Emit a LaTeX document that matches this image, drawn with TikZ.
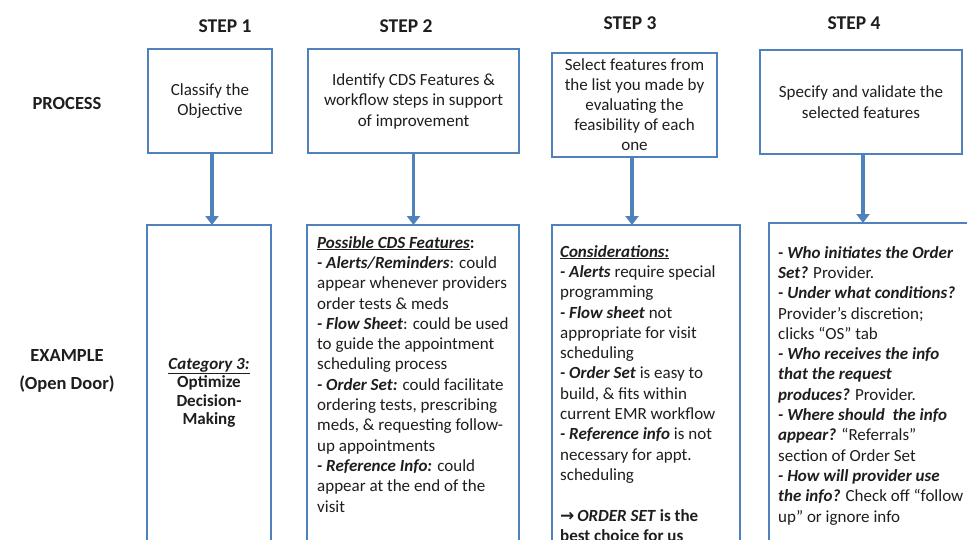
\documentclass[tikz,border=0pt]{standalone}
\usepackage{fontspec}
\setmainfont{Carlito}
\newfontfamily\symfont{DejaVu Sans}
\usetikzlibrary{arrows.meta}
\definecolor{boxblue}{HTML}{4F81BD}
\definecolor{txt}{HTML}{1E1E1E}
\newcommand{\bi}[1]{\textbf{\textit{#1}}}
\begin{document}
\begin{tikzpicture}[x=1pt,y=-1pt,
  box/.style={draw=boxblue,line width=2.4pt,inner sep=0pt,outer sep=0pt,
    font=\fontsize{17}{20.5}\selectfont,text=txt,align=center},
  conn/.style={draw=boxblue,line width=3.4pt,-{Triangle[width=13pt,length=9pt]}},
  head/.style={font=\bfseries\fontsize{19.5}{22}\selectfont,text=txt},
  side/.style={font=\bfseries\fontsize{18.5}{28}\selectfont,text=txt,align=center},
  lt/.style={font=\fontsize{17}{20.3}\selectfont,text=txt,align=left,inner sep=0pt,anchor=north west},
  ct/.style={font=\bfseries\fontsize{17}{18.5}\selectfont,text=txt,align=center,inner sep=0pt,anchor=north}]
\useasboundingbox (0,0) rectangle (967,539);
\fill[white] (0,0) rectangle (967,539);
\begin{scope}
\clip (0,0) rectangle (967,539);
% headings
\node[head] (h1) at (225,26) {STEP 1};
\node[head] (h2) at (406,26) {STEP 2};
\node[head] (h3) at (630,23) {STEP 3};
\node[head] (h4) at (854,23) {STEP 4};
% row labels
\node[side] (lp) at (67,103) {PROCESS};
\node[side] (le) at (67,371) {EXAMPLE\\(Open Door)};
% process boxes
\node[box,minimum width=124pt,minimum height=104pt] (p1) at (210,101) {Classify the\\Objective};
\node[box,minimum width=211pt,minimum height=104pt] (p2) at (413.5,101) {Identify CDS Features \&\\workflow steps in support\\of improvement};
\node[box,minimum width=165pt,minimum height=104pt,font=\fontsize{17}{20}\selectfont] (p3) at (634.5,105) {Select features from\\the list you made by\\evaluating the\\feasibility of each\\one};
\node[box,minimum width=202pt,minimum height=104pt] (p4) at (861,102) {Specify and validate the\\selected features};
% example boxes
\node[box,minimum width=124pt,minimum height=340pt] (e1) at (209,395) {};
\node[box,minimum width=212pt,minimum height=340pt] (e2) at (413,395) {};
\node[box,minimum width=188pt,minimum height=340pt] (e3) at (646,395) {};
\node[box,minimum width=206pt,minimum height=340pt] (e4) at (872,393) {};
% arrows
\draw[conn] ([xshift=2pt]p1.south) -- ([xshift=2pt]p1.south |- e1.north);
\draw[conn] (p2.south) -- (p2.south |- e2.north);
\draw[conn] ([xshift=-2.5pt]p3.south) -- ([xshift=-2.5pt]p3.south |- e3.north);
\draw[conn] ([xshift=2pt]p4.south) -- ([xshift=2pt]p4.south |- e4.north);
% example texts
\node[ct] (t1) at (209,358) {\bi{\underline{Category 3:}}\\Optimize\\Decision-\\Making};
\node[lt] (t2) at (317,236) {\bi{\underline{Possible CDS Features}}\textbf{:}\\
\bi{- Alerts/Reminders}: could\\
appear whenever providers\\
order tests \& meds\\
\bi{- Flow Sheet}: could be used\\
to guide the appointment\\
scheduling process\\
\bi{- Order Set:} could facilitate\\
ordering tests, prescribing\\
meds, \& requesting follow-\\
up appointments\\
\bi{- Reference Info:} could\\
appear at the end of the\\
visit};
\node[lt] (t3) at (560,245) {\bi{\underline{Considerations:}}\\
\bi{- Alerts} require special\\
programming\\
\bi{- Flow sheet} not\\
appropriate for visit\\
scheduling\\
\bi{- Order Set} is easy to\\
build, \& fits within\\
current EMR workflow\\
\bi{- Reference info} is not\\
necessary for appt.\\
scheduling\\[20.3pt]
{\symfont\bfseries →}\,\bi{ORDER SET} \textbf{is the}\\
\textbf{best choice for us}};
\node[lt] (t4) at (778,246) {\bi{- Who initiates the Order}\\
\bi{Set?} Provider.\\
\bi{- Under what conditions?}\\
Provider’s discretion;\\
clicks “OS” tab\\
\bi{- Who receives the info}\\
\bi{that the request}\\
\bi{produces?} Provider.\\
\bi{- Where should \ the info}\\
\bi{appear?} “Referrals”\\
section of Order Set\\
\bi{- How will provider use}\\
\bi{the info?} Check off “follow\\
up” or ignore info};
\end{scope}
\end{tikzpicture}
\end{document}
